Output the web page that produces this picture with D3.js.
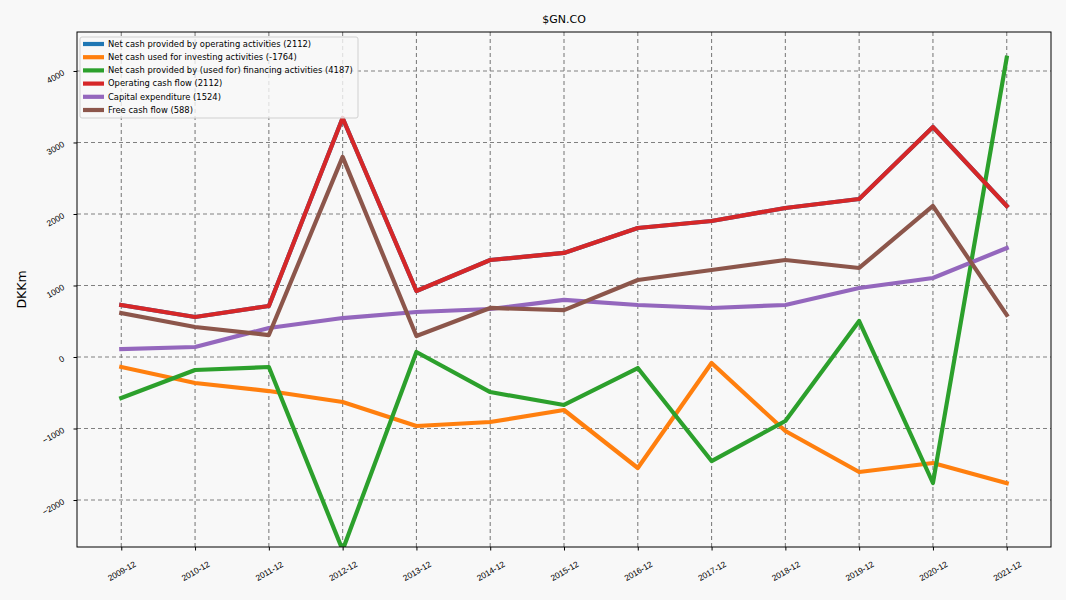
<!DOCTYPE html>
<html>
<head>
<meta charset="utf-8">
<script src="https://cdn.jsdelivr.net/npm/d3@7"></script>
<style>
  body { margin: 0; background: #f8f8f8; }
  svg { font-family: "DejaVu Sans", sans-serif; }
  .grid line { stroke: #808080; stroke-dasharray: 4,3; stroke-width: 1.1; }
  .axis path { display: none; }
  .axis line { stroke: #000; }
  .axis text { font-size: 8.4px; fill: #000; }
</style>
</head>
<body>
<svg width="1066" height="600"></svg>
<script>
var periods = ["2009-12", "2010-12", "2011-12", "2012-12", "2013-12", "2014-12", "2015-12",
               "2016-12", "2017-12", "2018-12", "2019-12", "2020-12", "2021-12"];
var yTicks = [-2000, -1000, 0, 1000, 2000, 3000, 4000];

var operatingActivities = [727, 560, 713, 3343, 923, 1357, 1455, 1804, 1902, 2084, 2210, 3217, 2112];
var investingActivities = [-140, -364, -476, -629, -965, -909, -741, -1552, -84, -1035, -1608, -1482, -1764];
var financingActivities = [-573, -182, -140, -2700, 70, -490, -671, -154, -1455, -895, 503, -1762, 4187];
var operatingCashFlow = [727, 560, 713, 3343, 923, 1357, 1455, 1804, 1902, 2084, 2210, 3217, 2112];
var capitalExpenditure = [112, 140, 406, 545, 629, 671, 800, 727, 685, 727, 965, 1105, 1524];
var freeCashFlow = [615, 420, 307, 2798, 294, 686, 655, 1077, 1217, 1357, 1245, 2112, 588];

var series = [
  {name: "Net cash provided by operating activities", values: operatingActivities, color: "#1f77b4"},
  {name: "Net cash used for investing activities", values: investingActivities, color: "#ff7f0e"},
  {name: "Net cash provided by (used for) financing activities", values: financingActivities, color: "#2ca02c"},
  {name: "Operating cash flow", values: operatingCashFlow, color: "#d62728"},
  {name: "Capital expenditure", values: capitalExpenditure, color: "#9467bd"},
  {name: "Free cash flow", values: freeCashFlow, color: "#8c564b"}
];

var svg = d3.select("svg"),
    margin = {top: 32, right: 15, bottom: 53, left: 77},
    width = +svg.attr("width") - margin.left - margin.right,
    height = +svg.attr("height") - margin.top - margin.bottom,
    g = svg.append("g").attr("transform", "translate(" + margin.left + "," + margin.top + ")");

// index scale with matplotlib-style 5% padding
var pad = (periods.length - 1) * 0.05;
var x = d3.scaleLinear()
    .domain([-pad, periods.length - 1 + pad])
    .range([0, width]);

var y = d3.scaleLinear()
    .domain([-2657, 4545])
    .range([height, 0]);

g.append("rect")
    .attr("width", width)
    .attr("height", height)
    .attr("fill", "#f8f8f8");

g.append("clipPath")
    .attr("id", "clip")
    .append("rect")
    .attr("width", width)
    .attr("height", height);

// grid
var grid = g.append("g").attr("class", "grid");
grid.selectAll(".gx")
    .data(d3.range(periods.length))
    .enter().append("line")
    .attr("x1", function (d) { return x(d); })
    .attr("x2", function (d) { return x(d); })
    .attr("y1", 0)
    .attr("y2", height);
grid.selectAll(".gy")
    .data(yTicks)
    .enter().append("line")
    .attr("x1", 0)
    .attr("x2", width)
    .attr("y1", function (d) { return y(d); })
    .attr("y2", function (d) { return y(d); });

var line = d3.line()
    .x(function (d, i) { return x(i); })
    .y(function (d) { return y(d); });

g.append("g")
    .attr("clip-path", "url(#clip)")
    .selectAll("path")
    .data(series)
    .enter().append("path")
    .attr("d", function (d) { return line(d.values); })
    .attr("fill", "none")
    .attr("stroke", function (d) { return d.color; })
    .attr("stroke-width", 4.2)
    .attr("stroke-linejoin", "round")
    .attr("stroke-linecap", "square");

// axes
var xAxis = g.append("g")
    .attr("class", "axis")
    .attr("transform", "translate(0," + height + ")")
    .call(d3.axisBottom(x)
        .tickValues(d3.range(periods.length))
        .tickFormat(function (i) { return periods[i]; })
        .tickSize(3.5));
xAxis.selectAll("text")
    .attr("text-anchor", "middle")
    .attr("dominant-baseline", "central")
    .attr("dy", null)
    .attr("y", null)
    .attr("transform", "translate(0,24) rotate(-30)");

var yAxis = g.append("g")
    .attr("class", "axis")
    .call(d3.axisLeft(y)
        .tickValues(yTicks)
        .tickFormat(function (d) { return d < 0 ? "\u2212" + Math.abs(d) : d; })
        .tickSize(3.5));
yAxis.selectAll("text")
    .attr("dy", null)
    .attr("x", null)
    .attr("text-anchor", "end")
    .attr("transform", "translate(-12,3) rotate(-30)");

g.append("rect")
    .attr("width", width)
    .attr("height", height)
    .attr("fill", "none")
    .attr("stroke", "#000")
    .attr("stroke-width", 1);

// title and label
svg.append("text")
    .attr("x", margin.left + width / 2)
    .attr("y", 23)
    .attr("text-anchor", "middle")
    .attr("font-size", "11px")
    .text("$GN.CO");

svg.append("text")
    .attr("transform", "translate(26," + (margin.top + height / 2) + ") rotate(-90)")
    .attr("text-anchor", "middle")
    .attr("font-size", "12.5px")
    .text("DKKm");

// legend
var legend = g.append("g").attr("transform", "translate(3,5)");
legend.append("rect")
    .attr("width", 278)
    .attr("height", 81)
    .attr("rx", 2)
    .attr("fill", "#f8f8f8")
    .attr("fill-opacity", 0.8)
    .attr("stroke", "#d0d0d0");
var items = legend.selectAll(".item")
    .data(series)
    .enter().append("g")
    .attr("transform", function (d, i) { return "translate(0," + (7 + i * 13.2) + ")"; });
items.append("line")
    .attr("x1", 3)
    .attr("x2", 24)
    .attr("stroke", function (d) { return d.color; })
    .attr("stroke-width", 4.2);
items.append("text")
    .attr("x", 28)
    .attr("dy", "0.33em")
    .attr("font-size", "8.4px")
    .text(function (d) { return d.name + " (" + d.values[d.values.length - 1] + ")"; });
</script>
</body>
</html>
